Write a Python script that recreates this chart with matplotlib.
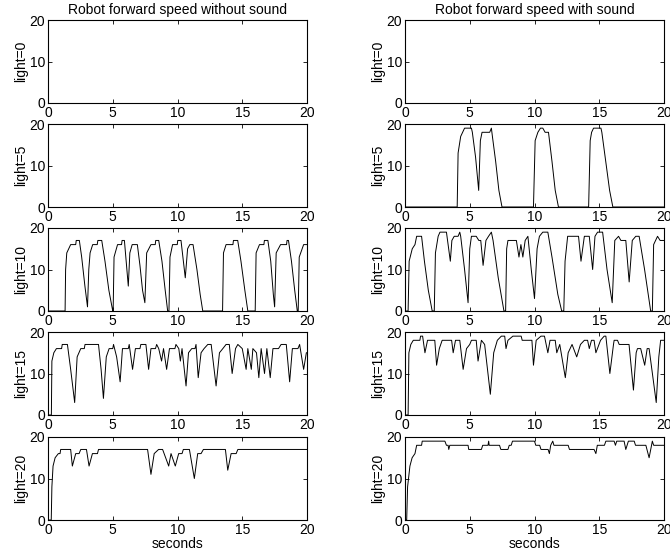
import matplotlib
matplotlib.use("Agg")
import matplotlib.pyplot as plt

plt.rcParams['font.family'] = ['Liberation Sans', 'DejaVu Sans']
plt.rcParams['font.size'] = 10

# light levels per row
light_levels = [0, 5, 10, 15, 20]
titles = ['Robot forward speed without sound', 'Robot forward speed with sound']
x_ticks = [0, 5, 10, 15, 20]
y_ticks = [0, 10, 20]

# (seconds, speed)
nosound_light0 = [(0, 0), (20, 0)]
nosound_light5 = [(0, 0), (20, 0)]
nosound_light10 = [(0, 0), (1.32, 0), (1.36, 10), (1.45, 14), (1.75, 16), (2.14, 16), (2.18, 17), (2.42, 17),
                   (2.6, 13), (2.85, 6), (3.05, 1), (3.15, 10), (3.25, 14), (3.45, 16), (3.8, 16), (3.85, 17),
                   (4.15, 17), (4.4, 12), (4.7, 5), (5.0, 0), (5.03, 0), (5.1, 13), (5.37, 16), (5.68, 16),
                   (5.72, 17), (5.9, 17), (6.2, 6), (6.32, 14), (6.5, 16), (6.9, 16), (7.1, 11), (7.3, 5),
                   (7.48, 2), (7.62, 14), (7.95, 16), (8.28, 16), (8.32, 17), (8.55, 17), (8.8, 12), (9.05, 5),
                   (9.24, 0), (9.34, 0), (9.42, 13), (9.62, 16), (9.98, 16), (10.02, 17), (10.27, 17), (10.6, 8),
                   (10.78, 15), (10.95, 16), (11.2, 16), (11.5, 10), (11.75, 4), (11.95, 0), (13.48, 0),
                   (13.55, 14), (13.75, 16), (14.28, 16), (14.32, 17), (14.65, 17), (14.9, 12), (15.2, 5),
                   (15.43, 0), (16.0, 0), (16.07, 14), (16.33, 16), (16.67, 16), (16.71, 17), (16.98, 17),
                   (17.2, 12), (17.4, 4), (17.5, 1), (17.62, 14), (17.96, 16), (18.42, 16), (18.46, 17),
                   (18.57, 17), (18.8, 12), (19.05, 5), (19.25, 0), (19.32, 0), (19.4, 13), (19.74, 16), (20, 16)]
nosound_light15 = [(0, 0), (0.26, 0), (0.3, 13), (0.45, 15), (0.65, 16), (1.05, 16), (1.1, 17), (1.5, 17),
                   (1.75, 11), (2.06, 3), (2.25, 14), (2.53, 16), (2.8, 16), (2.86, 17), (3.9, 17), (4.1, 11),
                   (4.28, 4), (4.5, 14), (4.72, 16), (5.0, 16), (5.06, 17), (5.3, 14), (5.57, 8), (5.75, 16),
                   (6.2, 16), (6.27, 17), (6.53, 11), (6.75, 16), (7.1, 16), (7.17, 17), (7.56, 17), (7.77, 11),
                   (7.95, 16), (8.3, 16), (8.39, 17), (8.55, 16), (8.77, 13), (8.92, 16), (9.16, 11), (9.38, 16),
                   (9.8, 16), (9.88, 17), (10.1, 16), (10.22, 13), (10.35, 16), (10.66, 7), (10.85, 15),
                   (11.1, 16), (11.35, 16), (11.43, 17), (11.6, 9), (11.82, 15), (12.05, 16), (12.34, 17),
                   (12.6, 17), (12.98, 7), (13.24, 15), (13.5, 16), (13.75, 17), (14.0, 17), (14.22, 10),
                   (14.48, 16), (14.66, 17), (15.0, 16), (15.3, 11), (15.43, 16), (15.7, 11), (15.82, 16),
                   (16.1, 15), (16.28, 9), (16.46, 16), (16.72, 10), (16.9, 16), (17.16, 9), (17.37, 16),
                   (17.8, 16), (18.0, 17), (18.4, 17), (18.66, 8), (18.87, 16), (19.3, 16), (19.43, 17),
                   (19.74, 11), (19.95, 15), (20, 15)]
nosound_light20 = [(0, 0), (0.25, 0), (0.3, 8), (0.39, 13), (0.55, 15), (0.8, 16), (0.93, 16), (0.98, 17),
                   (1.75, 17), (1.88, 13), (2.14, 16), (2.4, 16), (2.53, 17), (2.97, 17), (3.17, 13), (3.43, 16),
                   (3.82, 16), (3.9, 17), (7.69, 17), (7.95, 11), (8.2, 16), (8.54, 17), (8.85, 17), (9.32, 13),
                   (9.5, 16), (9.83, 13), (10.09, 16), (10.35, 16), (10.45, 17), (10.92, 17), (11.3, 10),
                   (11.56, 16), (11.82, 16), (12.0, 17), (13.7, 17), (13.88, 12), (14.14, 16), (14.53, 16),
                   (14.66, 17), (20, 17)]

sound_light0 = [(0, 0), (20, 0)]
sound_light5 = [(0, 0), (4.03, 0), (4.1, 13), (4.3, 17), (4.45, 18), (4.6, 19), (5.13, 19), (5.2, 18),
                (5.45, 12), (5.69, 4), (5.82, 16), (5.95, 18), (6.54, 18), (6.67, 19), (6.75, 17), (7.0, 11),
                (7.25, 4), (7.49, 0), (9.92, 0), (10.05, 16), (10.26, 18), (10.46, 19), (10.64, 19), (10.82, 18),
                (11.08, 18), (11.35, 11), (11.6, 4), (11.85, 0), (14.18, 0), (14.3, 16), (14.41, 18), (14.56, 19),
                (15.13, 19), (15.2, 18), (15.5, 11), (15.8, 4), (16.05, 0), (20, 0)]
sound_light10 = [(0, 0), (0.24, 0), (0.32, 12), (0.56, 15), (0.77, 16), (0.9, 18), (1.28, 18), (1.5, 12),
                 (1.8, 5), (2.1, 0), (2.26, 0), (2.35, 14), (2.56, 18), (2.7, 19), (3.2, 19), (3.5, 12),
                 (3.62, 17), (3.8, 18), (4.1, 18), (4.23, 19), (4.3, 18), (4.6, 10), (4.87, 2), (5.0, 15),
                 (5.13, 18), (5.5, 18), (5.7, 17), (5.85, 17), (6.03, 11), (6.25, 17), (6.45, 18), (6.67, 19),
                 (6.8, 17), (7.2, 8), (7.64, 0), (7.77, 0), (7.85, 15), (7.95, 17), (8.6, 17), (8.8, 13),
                 (8.95, 16), (9.1, 13), (9.28, 17), (9.49, 18), (9.75, 10), (10.0, 3), (10.2, 15), (10.38, 18),
                 (10.64, 19), (11.03, 19), (11.35, 13), (11.8, 4), (12.1, 0), (12.26, 0), (12.36, 12),
                 (12.56, 18), (13.4, 18), (13.59, 12), (13.85, 18), (14.23, 18), (14.49, 10), (14.67, 18),
                 (14.87, 19), (15.26, 19), (15.6, 10), (16.0, 2), (16.2, 17), (16.49, 18), (16.67, 17),
                 (17.05, 17), (17.31, 7), (17.55, 17), (17.82, 18), (18.08, 18), (18.5, 10), (18.97, 0),
                 (19.1, 0), (19.2, 16), (19.5, 18), (19.7, 17), (20, 17)]
sound_light15 = [(0, 0), (0.24, 0), (0.3, 15), (0.45, 17), (0.64, 18), (1.15, 18), (1.2, 19), (1.36, 19),
                 (1.54, 15), (1.74, 18), (2.3, 18), (2.44, 12), (2.65, 16), (2.87, 18), (3.6, 18), (3.72, 15),
                 (3.9, 18), (4.23, 18), (4.49, 11), (4.75, 16), (5.0, 17), (5.13, 18), (5.5, 18), (5.64, 13),
                 (5.9, 18), (6.15, 17), (6.59, 5), (6.85, 15), (7.13, 18), (7.44, 19), (7.7, 19), (7.8, 16),
                 (7.95, 18), (8.33, 19), (8.97, 19), (9.05, 18), (9.8, 18), (9.92, 12), (10.13, 18),
                 (10.5, 19), (10.77, 19), (11.03, 15), (11.2, 18), (11.6, 18), (11.72, 15), (11.95, 17),
                 (12.38, 9), (12.6, 15), (12.9, 17), (13.26, 14), (13.55, 17), (13.85, 18), (14.1, 18),
                 (14.23, 16), (14.4, 18), (14.6, 18), (14.74, 15), (15.1, 18), (15.38, 19), (15.51, 19),
                 (15.82, 10), (16.1, 17), (16.15, 18), (16.41, 18), (16.54, 17), (17.3, 17), (17.64, 6),
                 (17.85, 15), (17.95, 16), (18.2, 16), (18.51, 12), (18.7, 16), (18.85, 16), (19.4, 3),
                 (19.6, 14), (19.74, 18), (20, 18)]
sound_light20 = [(0, 0), (0.13, 0), (0.2, 8), (0.38, 13), (0.55, 15), (0.77, 16), (0.9, 18), (1.28, 18),
                 (1.33, 19), (3.08, 19), (3.2, 18), (3.33, 18), (3.38, 17), (3.46, 18), (4.87, 18), (4.92, 17),
                 (5.9, 17), (6.0, 18), (6.41, 18), (6.46, 19), (6.5, 18), (7.3, 18), (7.4, 17), (7.95, 17),
                 (8.05, 18), (8.2, 18), (8.3, 19), (10.0, 19), (10.1, 18), (10.4, 18), (10.5, 17), (11.05, 17),
                 (11.15, 16), (11.25, 18), (11.41, 19), (11.5, 18), (12.6, 18), (12.7, 17), (14.6, 17),
                 (14.74, 16), (14.85, 18), (15.4, 18), (15.51, 19), (16.15, 19), (16.25, 18), (16.35, 19),
                 (16.92, 19), (17.05, 17), (17.25, 19), (17.7, 19), (17.8, 18), (18.6, 18), (18.85, 15),
                 (19.1, 19), (19.2, 18), (20, 18)]

columns = [
    [nosound_light0, nosound_light5, nosound_light10, nosound_light15, nosound_light20],
    [sound_light0, sound_light5, sound_light10, sound_light15, sound_light20],
]

fig = plt.figure(figsize=(6.7, 5.51), dpi=100)

W, H = 670.0, 551.0
lefts = [48, 405]
ax_w = 259
ax_h = 83
tops = [20, 124, 228, 332, 437]

for c, series_list in enumerate(columns):
    for r, series in enumerate(series_list):
        ax = fig.add_axes([lefts[c] / W, 1 - (tops[r] + ax_h) / H, ax_w / W, ax_h / H])
        t = [p[0] for p in series]
        v = [p[1] for p in series]
        ax.plot(t, v, color='black', linewidth=0.7)
        ax.set_xlim(0, 20)
        ax.set_ylim(0, 20)
        ax.set_xticks(x_ticks)
        ax.set_yticks(y_ticks)
        ax.tick_params(direction='in', length=3, width=0.6, top=True, right=True, pad=2)
        for s in ax.spines.values():
            s.set_linewidth(0.8)
        ax.set_ylabel('light=%d' % light_levels[r], labelpad=1)
        if r == 0:
            ax.set_title(titles[c], fontsize=10, pad=4)
        if r == 4:
            ax.set_xlabel('seconds', labelpad=0)

fig.savefig('out.png', dpi=100)
